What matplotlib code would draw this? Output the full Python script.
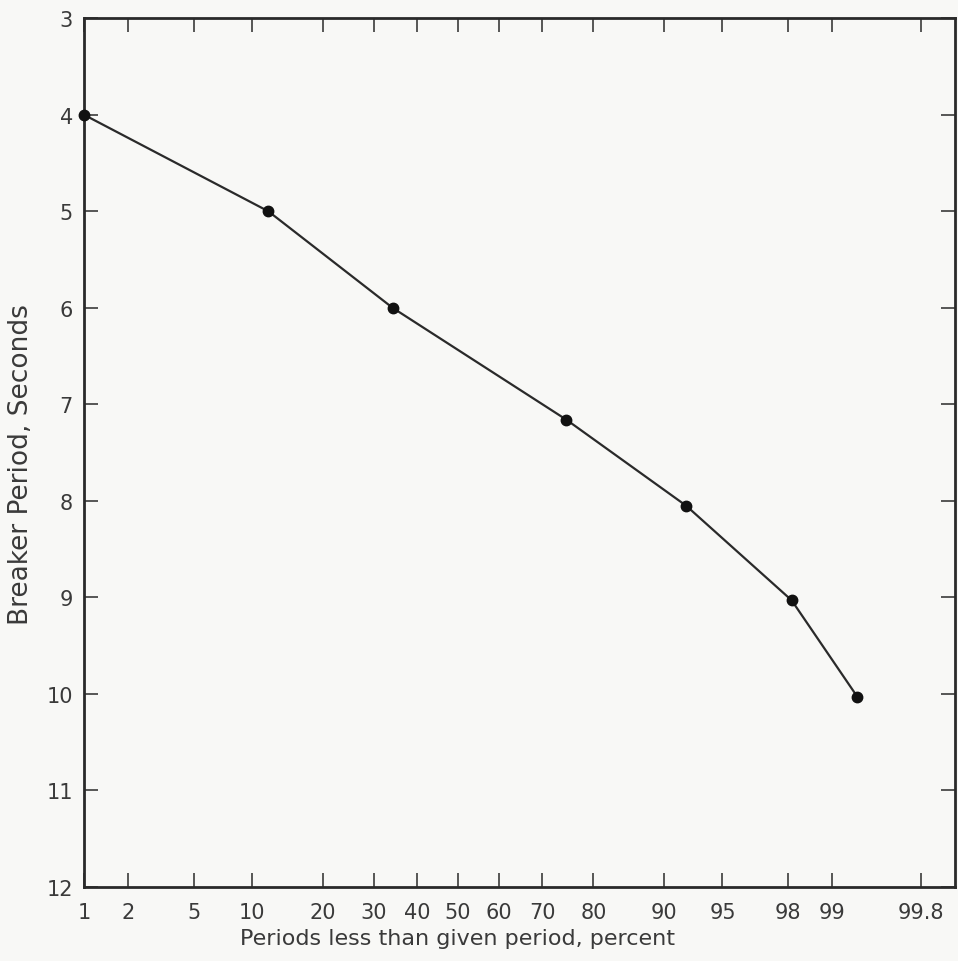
import numpy as np
import matplotlib
matplotlib.use("Agg")
import matplotlib.pyplot as plt
from statistics import NormalDist

# data
pct_less = [1.0, 11.9, 34.2, 75.0, 92.2, 98.1, 99.35]
period = [4.0, 5.0, 6.0, 7.16, 8.05, 9.03, 10.03]

xticks = [1, 2, 5, 10, 20, 30, 40, 50, 60, 70, 80, 90, 95, 98, 99, 99.8]
xticklabels = ["1", "2", "5", "10", "20", "30", "40", "50", "60", "70", "80",
               "90", "95", "98", "99", "99.8"]
yticks = list(range(3, 13))

nd = NormalDist()
_ppf = np.vectorize(lambda p: nd.inv_cdf(min(max(p / 100.0, 1e-9), 1 - 1e-9)),
                    otypes=[float])
_cdf = np.vectorize(lambda z: 100.0 * nd.cdf(z), otypes=[float])


def forward(p):
    return _ppf(np.asarray(p, dtype=float))


def inverse(z):
    return _cdf(np.asarray(z, dtype=float))


bg = "#f8f8f6"
ink = "#2a2a2a"
txt = "#3a3a3a"
plt.rcParams['font.family'] = ['DejaVu Sans']

fig = plt.figure(figsize=(9.58, 9.62), dpi=100, facecolor=bg)
ax = fig.add_axes([0.0877, 0.077, 0.909, 0.903], facecolor=bg)

ax.plot(pct_less, period, color=ink, lw=1.6, marker="o", ms=7.5,
        mfc="#111111", mec="#111111", clip_on=False, zorder=3)

ax.set_xscale("function", functions=(forward, inverse))
ax.set_xlim(1, 99.9)
ax.set_ylim(12, 3)

ax.set_xticks(xticks)
ax.set_xticklabels(xticklabels)
ax.xaxis.set_minor_locator(matplotlib.ticker.NullLocator())
ax.set_yticks(yticks)
ax.set_yticklabels([str(v) for v in yticks])

ax.tick_params(axis="both", which="major", direction="in", length=10, width=1.1,
               color=ink, labelcolor=txt, labelsize=15,
               top=True, right=True, pad=8)
ax.tick_params(axis="x", which="major", pad=11)

for s in ax.spines.values():
    s.set_linewidth(2.0)
    s.set_color(ink)

ax.set_xlabel("Periods less than given period, percent", fontsize=16,
              color=txt)
ax.xaxis.set_label_coords(0.429, -0.047)
ax.set_ylabel("Breaker Period, Seconds", fontsize=19, color=txt)
ax.yaxis.set_label_coords(-0.058, 0.487)

fig.savefig("out.png", dpi=100, facecolor=bg)
